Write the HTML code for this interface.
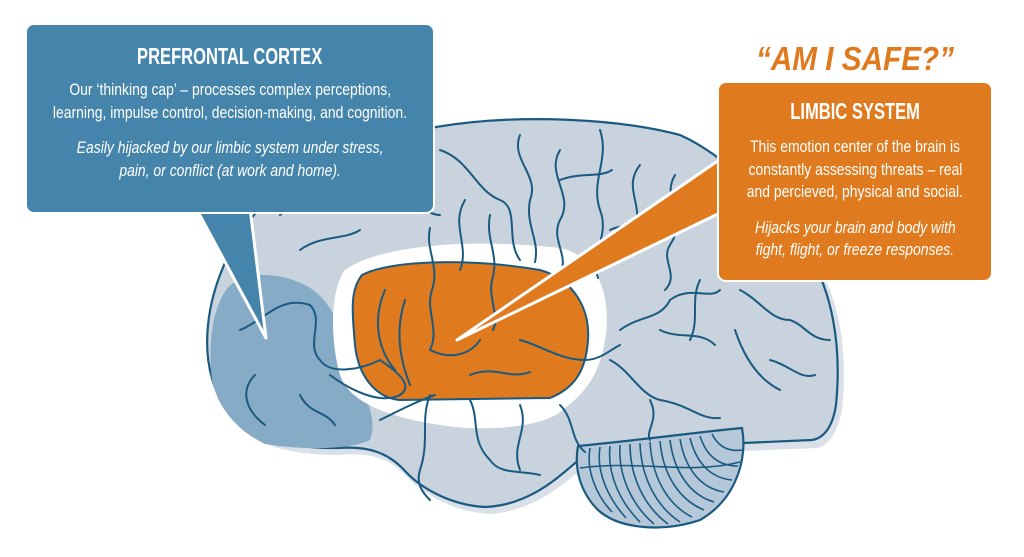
<!DOCTYPE html>
<html><head><meta charset="utf-8"><style>
html,body{margin:0;padding:0;background:#fff}
body{width:1024px;height:557px;overflow:hidden;position:relative;font-family:"Liberation Sans Narrow","Liberation Sans",sans-serif}
svg{position:absolute;left:0;top:0}
.box{position:absolute;color:#fff;text-align:center;border-radius:9px}
.box>div{margin-left:-150px;margin-right:-150px}
.t{font-weight:bold;font-size:23px;line-height:26px}
.t .n{transform:scaleX(0.72)}
.p{font-size:17px;line-height:22.5px}
.n{display:inline-block;transform:scaleX(0.82);white-space:nowrap}
</style></head><body>
<svg width="1024" height="557" viewBox="0 0 1024 557">
<g stroke-linejoin="round">
<path d="M260,222 C290,180 350,150 436,132 C520,118 620,124 685,142 C730,160 780,210 815,260 C840,300 848,350 842,410 C838,430 830,445 818,448 L720,452 C680,452 620,458 590,462 C570,478 540,510 490,514 C450,512 420,490 408,478 C390,458 370,452 340,455 C300,455 265,450 240,428 C218,405 210,370 214,330 C218,290 235,252 260,222 Z" fill="#d9e0e8"/>
<path d="M254,215 C285,175 345,145 436,127 C520,113 620,119 680,135 C725,155 775,205 808,252 C832,292 842,345 836,405 C833,425 825,438 812,440 L720,444 C680,444 620,450 585,455 C565,470 535,505 485,507 C447,505 418,485 406,472 C388,452 368,446 338,448 C296,448 260,443 236,420 C214,398 204,365 208,325 C212,285 230,245 254,215 Z" fill="#c8d3de" stroke="#1b5a80" stroke-width="2.2"/>
<path d="M226,290 C240,272 275,270 305,285 C335,300 345,340 355,370 C365,395 378,420 370,440 C350,450 300,450 265,444 C240,432 218,410 212,380 C208,345 212,310 226,290 Z" fill="#86abc6"/>
<path d="M345,270 C380,245 470,238 560,248 C600,256 612,300 605,340 C600,370 590,390 560,412 C540,428 480,432 440,425 C395,418 350,405 340,375 C330,340 330,290 345,270 Z" fill="#fff"/>
<path d="M362,275 C390,260 470,258 540,270 C575,280 590,310 588,340 C586,370 575,388 550,398 L400,400 C375,398 358,375 355,345 C352,310 350,290 362,275 Z" fill="#df7a1e" stroke="#1b5a80" stroke-width="2"/>
<path d="M578,446 C640,440 700,432 742,428 C748,460 735,500 700,520 C665,532 620,530 598,510 C580,492 574,468 578,446 Z" fill="#b4c8da" stroke="#1b5a80" stroke-width="2.2"/>
<g stroke="#1b5a80" stroke-width="1.6" fill="none">
<path d="M590,448 C586,470 596,495 612,512"/><path d="M600,447 C596,472 608,498 626,518"/><path d="M610,446 C607,474 620,502 640,522"/><path d="M620,445 C618,476 632,505 654,524"/><path d="M630,444 C630,478 645,507 668,524"/><path d="M640,443 C641,478 657,507 680,522"/><path d="M650,442 C652,478 668,505 692,517"/><path d="M660,441 C663,476 680,500 704,510"/><path d="M670,440 C674,472 690,495 714,502"/><path d="M680,439 C685,468 700,488 724,492"/><path d="M690,438 C696,462 710,478 732,480"/><path d="M700,436 C706,455 718,466 738,466"/><path d="M712,434 C718,446 728,452 742,450"/><path d="M580,468 C640,460 690,475 740,462"/>
</g>
<g stroke="#1b5a80" stroke-width="2" fill="none" stroke-linecap="round">
<path d="M430,228 C425,250 440,265 432,290 C425,310 440,330 430,350"/>
<path d="M465,200 C450,225 470,245 460,270"/>
<path d="M490,215 C485,240 500,255 492,280 C488,300 500,315 493,330"/>
<path d="M440,150 C470,160 475,190 500,200 C520,208 505,240 520,260"/>
<path d="M520,135 C510,160 540,175 530,200 C525,225 540,240 535,262"/>
<path d="M560,150 C545,175 575,195 560,220 C550,240 570,255 560,275"/>
<path d="M600,130 C610,160 590,180 600,210 C610,235 590,255 598,278"/>
<path d="M640,165 C620,190 650,210 630,235"/>
<path d="M675,175 C660,200 690,215 670,245 C660,260 680,275 665,290"/>
<path d="M560,180 C580,172 600,178 612,170"/>
<path d="M340,210 C365,195 380,215 400,205 C420,198 425,215 440,215"/>
<path d="M300,250 C320,235 345,240 360,230"/>
<path d="M280,215 C295,200 310,205 320,195"/>
<path d="M230,260 C245,255 255,270 250,285"/>
<path d="M240,330 C265,320 280,295 310,305 C325,320 305,345 320,360 C330,375 360,370 380,360"/>
<path d="M255,375 C240,390 245,410 265,425"/>
<path d="M300,395 C310,415 325,410 335,425"/>
<path d="M330,375 C350,390 380,405 400,395 C415,385 395,370 380,360"/>
<path d="M380,420 C400,410 420,400 435,395"/>
<path d="M385,290 C372,320 378,350 395,370"/>
<path d="M405,300 C395,330 400,360 410,385"/>
<path d="M430,350 C450,360 470,355 480,340"/>
<path d="M470,375 C495,365 510,380 530,372"/>
<path d="M520,340 C540,345 560,360 585,360 C600,360 610,350 620,345"/>
<path d="M430,395 C420,420 430,440 420,470 C415,485 425,495 430,500"/>
<path d="M470,400 C480,420 470,440 490,460 C500,475 520,470 540,475"/>
<path d="M520,405 C530,430 510,445 520,470"/>
<path d="M560,405 C575,420 570,440 585,452"/>
<path d="M620,330 C640,315 660,320 670,300 C690,285 710,300 720,290"/>
<path d="M610,360 C630,370 640,395 660,400 C690,405 700,420 720,418"/>
<path d="M660,330 C680,340 700,330 715,345"/>
<path d="M740,290 C760,300 770,320 790,320 C805,325 810,340 830,340"/>
<path d="M735,330 C745,360 760,380 780,390"/>
<path d="M770,360 C790,365 800,380 815,375"/>
<path d="M700,280 C690,300 700,320 690,340"/>
<path d="M610,230 C630,220 650,235 660,225"/>
<path d="M650,400 C660,420 645,430 650,440"/>
</g>
<path d="M196,208 L266,338 L250,208 Z" fill="#4585ab" stroke="#fff" stroke-width="3"/>
<path d="M722,158 L457,340 L722,212 Z" fill="#df7a1e" stroke="#fff" stroke-width="3"/>
</g>
</svg>
<div class="box" style="width:406px;height:187px;background:#4585ab;border:2px solid #fff;left:25px;top:23px">
<div class="t" style="margin-top:18px"><span class="n">PREFRONTAL CORTEX</span></div>
<div class="p" style="margin-top:10px"><span class="n">Our ‘thinking cap’ – processes complex perceptions,</span><br><span class="n">learning, impulse control, decision-making, and cognition.</span></div>
<div class="p" style="margin-top:13px;font-style:italic"><span class="n">Easily hijacked by our limbic system under stress,</span><br><span class="n">pain, or conflict (at work and home).</span></div>
</div>
<div style="position:absolute;left:720px;top:39px;width:270px;text-align:center;color:#df7a1e;font-family:'Liberation Sans',sans-serif;font-weight:bold;font-style:italic;font-size:33px;line-height:40px"><span class="n" style="transform:scaleX(0.9)">“AM I SAFE?”</span></div>
<div class="box" style="left:717px;top:81px;width:272px;height:197px;background:#df7a1e;border:2px solid #fff">
<div class="t" style="margin-top:15px"><span class="n">LIMBIC SYSTEM</span></div>
<div class="p" style="margin-top:12px"><span class="n">This emotion center of the brain is</span><br><span class="n">constantly assessing threats – real</span><br><span class="n">and percieved, physical and social.</span></div>
<div class="p" style="margin-top:13px;font-style:italic"><span class="n">Hijacks your brain and body with</span><br><span class="n">fight, flight, or freeze responses.</span></div>
</div>
</body></html>
